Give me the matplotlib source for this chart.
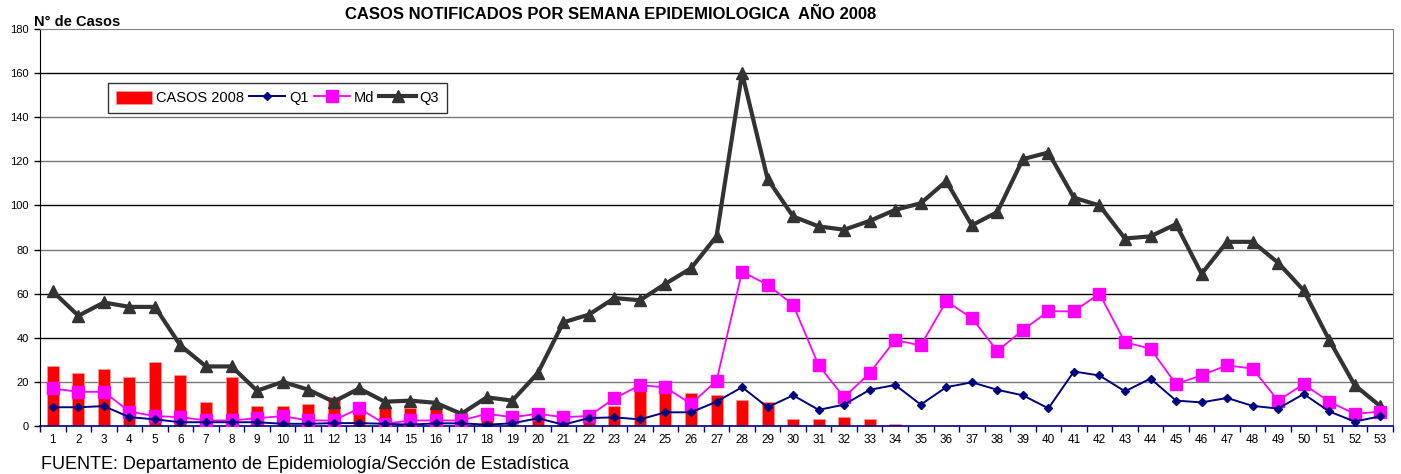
import matplotlib.pyplot as plt
from matplotlib.ticker import MultipleLocator

# Datos
semanas = list(range(1, 54))
casos_2008 = [27, 24, 26, 22, 29, 23, 11, 22, 9, 9,
              10, 13, 7, 8, 8, 9, 7, 5, 1, 5,
              3, 3, 9, 16, 16, 15, 14, 12, 11, 3,
              3, 4, 3, 1, 0, 0, 0, 0, 0, 0,
              0, 0, 0, 0, 0, 0, 0, 0, 0, 0,
              0, 0, 0]
q1 = [8.5, 8.5, 9, 4, 3, 1.7, 1.7, 1.7, 1.7, 1,
      1, 1.3, 1.3, 1, 0.6, 1.2, 1.2, 0.6, 1.2, 3.5,
      0.6, 3.6, 3.9, 3, 6.2, 6.2, 11, 17.6, 8.5, 13.9,
      7.3, 9.7, 16.4, 18.6, 9.7, 17.6, 19.8, 16.4, 13.9, 8,
      24.7, 22.9, 15.7, 21.5, 11.5, 10.7, 12.7, 9.1, 7.9, 14.5,
      6.6, 2, 4.4]
md = [17, 15.5, 15.5, 6.5, 4.5, 4, 2.5, 2.5, 3.5, 4.5,
      2.5, 2.5, 8, 1, 2.5, 2.5, 2.5, 5.5, 4, 5.5,
      4, 4.5, 12.5, 18.5, 17.5, 10, 20.5, 70, 64, 55,
      27.5, 13, 24, 39, 36.5, 56.5, 49, 34, 43.5, 52,
      52, 60, 38, 35, 19, 23, 27.5, 26, 11.5, 19,
      11, 5.5, 6.5]
q3 = [61, 50, 56, 54, 54, 36.5, 27, 27, 16, 20,
      16.5, 11, 17, 11, 11.5, 10.5, 5.5, 13, 11.5, 24,
      47, 50.5, 58, 57, 64.5, 71.5, 86, 160, 112, 95,
      90.5, 89, 93, 98, 101, 111, 91, 97, 121, 124,
      103.5, 100, 85, 86, 91.5, 69, 83.5, 83.5, 74, 61.5,
      39, 18.5, 9]

plt.rcParams['font.family'] = ['Liberation Sans', 'DejaVu Sans']

fig = plt.figure(figsize=(14.01, 4.74), dpi=100)
ax = fig.add_axes([0.0286, 0.1013, 0.9657, 0.8375])

# lineas de division horizontales
grid_colors = {20: '#777777', 40: '#000000', 60: '#000000', 80: '#777777',
               100: '#000000', 120: '#777777', 140: '#777777', 160: '#000000'}
for val, col in grid_colors.items():
    ax.axhline(val, color=col, lw=1, zorder=0)

ax.bar(semanas, casos_2008, width=0.47, color='#FF0000', edgecolor='#FF9999',
       linewidth=0.5, label='CASOS 2008', zorder=2)
ax.plot(semanas, q3, color='#333333', lw=3, marker='^', markersize=9,
        label='Q3', zorder=3)
ax.plot(semanas, q1, color='#000080', lw=1.4, marker='D', markersize=4,
        label='Q1', zorder=5)
ax.plot(semanas, md, color='#FF00FF', lw=1.3, marker='s', markersize=8,
        label='Md', zorder=4)

ax.set_xlim(0.5, 53.5)
ax.set_ylim(0, 180)
ax.set_xticks(semanas)
ax.set_xticklabels([str(s) for s in semanas], fontsize=8.5)
ax.xaxis.set_minor_locator(MultipleLocator(1, offset=0.5))
ax.tick_params(axis='x', which='major', length=0, pad=6)
ax.tick_params(axis='x', which='minor', length=4, color='#000080', width=1)
ax.set_yticks(range(0, 181, 20))
ax.tick_params(axis='y', labelsize=8, length=4, width=1, pad=4)

ax.spines['left'].set_color('#000000')
ax.spines['bottom'].set_color('#000080')
ax.spines['bottom'].set_linewidth(1.2)
ax.spines['top'].set_color('#808080')
ax.spines['right'].set_color('#808080')

handles, labels = ax.get_legend_handles_labels()
order = [labels.index(l) for l in ['CASOS 2008', 'Q1', 'Md', 'Q3']]
leg = ax.legend([handles[i] for i in order], [labels[i] for i in order],
                loc='upper left', bbox_to_anchor=(0.05, 0.865), ncol=4,
                fontsize=10.5, frameon=True, fancybox=False, handlelength=2.5,
                handleheight=1.0, handletextpad=0.25, columnspacing=0.35,
                borderpad=0.55, borderaxespad=0)
leg.get_frame().set_edgecolor('#000000')
leg.get_frame().set_linewidth(1)

fig.text(0.436, 0.985, 'CASOS NOTIFICADOS POR SEMANA EPIDEMIOLOGICA  AÑO 2008',
         ha='center', va='top', fontsize=12, fontweight='bold')
fig.text(0.024, 0.968, 'N° de Casos', ha='left', va='top', fontsize=10.5,
         fontweight='bold')
fig.text(0.029, 0.003, 'FUENTE: Departamento de Epidemiología/Sección de Estadística',
         ha='left', va='bottom', fontsize=13)

plt.savefig('out.png', dpi=100)
